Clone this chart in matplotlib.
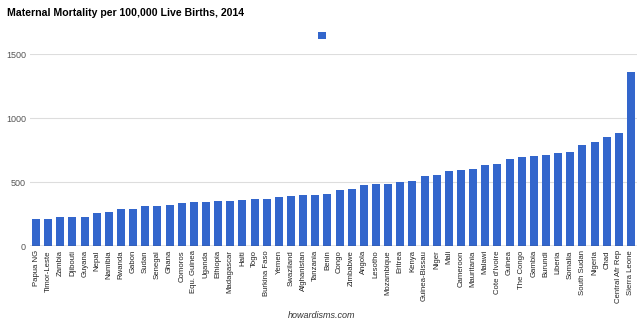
import matplotlib
matplotlib.use("Agg")
import matplotlib.pyplot as plt
import numpy as np

# Muertes maternas por 100.000 nacidos vivos (2014)
countries = [
    "Papua NG", "Timor-Leste", "Zambia", "Djibouti", "Guyana", "Nepal", "Namibia",
    "Rwanda", "Gabon", "Sudan", "Senegal", "Ghana", "Comoros", "Equ. Guinea",
    "Uganda", "Ethiopia", "Madagascar", "Haiti", "Togo", "Burkina Faso", "Yemen",
    "Swaziland", "Afghanistan", "Tanzania", "Benin", "Congo", "Zimbabwe", "Angola",
    "Lesotho", "Mozambique", "Eritrea", "Kenya", "Guinea-Bissau", "Niger", "Mali",
    "Cameroon", "Mauritania", "Malawi", "Cote d'Ivoire", "Guinea", "The Congo",
    "Gambia", "Burundi", "Liberia", "Somalia", "South Sudan", "Nigeria", "Chad",
    "Central Afr Rep", "Sierra Leone",
]
values = [
    215, 215, 224, 229, 229, 258, 265, 290, 291, 311, 315, 319, 335, 342,
    343, 353, 353, 359, 368, 371, 385, 389, 396, 398, 405, 442, 443, 477,
    487, 489, 501, 510, 549, 553, 587, 596, 602, 634, 645, 679, 693,
    706, 712, 725, 732, 789, 814, 856, 882, 1360,
]
y_ticks = [0, 500, 1000, 1500]

plt.rcParams["font.family"] = ["Liberation Sans", "DejaVu Sans"]

fig = plt.figure(figsize=(6.44, 3.25), dpi=100)
ax = fig.add_axes([30 / 644, 79 / 325, 607 / 644, 191.7 / 325])

x = np.arange(len(countries))
bars = ax.bar(x, values, width=0.66, color="#3366cc", zorder=2)

ax.set_xlim(-0.5, len(countries) - 0.5)
ax.set_ylim(0, 1500)
ax.set_yticks(y_ticks)
ax.set_yticklabels([str(t) for t in y_ticks], fontsize=6.5, color="#555555")
ax.set_xticks(x)
ax.set_xticklabels(countries, rotation=90, fontsize=5.6, color="#222222")
ax.tick_params(axis="both", length=0, pad=3)
ax.grid(axis="y", color="#dddddd", linewidth=0.8, zorder=0)
ax.axhline(0, color="#444444", linewidth=0.9, zorder=3)
for s in ax.spines.values():
    s.set_visible(False)

fig.text(7 / 644, 1 - 13 / 325, "Maternal Mortality per 100,000 Live Births, 2014",
         fontsize=7.6, fontweight="bold", va="center", ha="left", color="#000000")

fig.legend([bars], [""], loc="center", bbox_to_anchor=(322 / 644, 1 - 36 / 325),
           frameon=False, handlelength=0.75, handleheight=0.75, handletextpad=0,
           borderpad=0, fontsize=7)

fig.text(0.5, 1 - 315 / 325, "howardisms.com", fontsize=6.5, style="italic",
         ha="center", va="center", color="#333333")

fig.savefig("out.png", dpi=100)
